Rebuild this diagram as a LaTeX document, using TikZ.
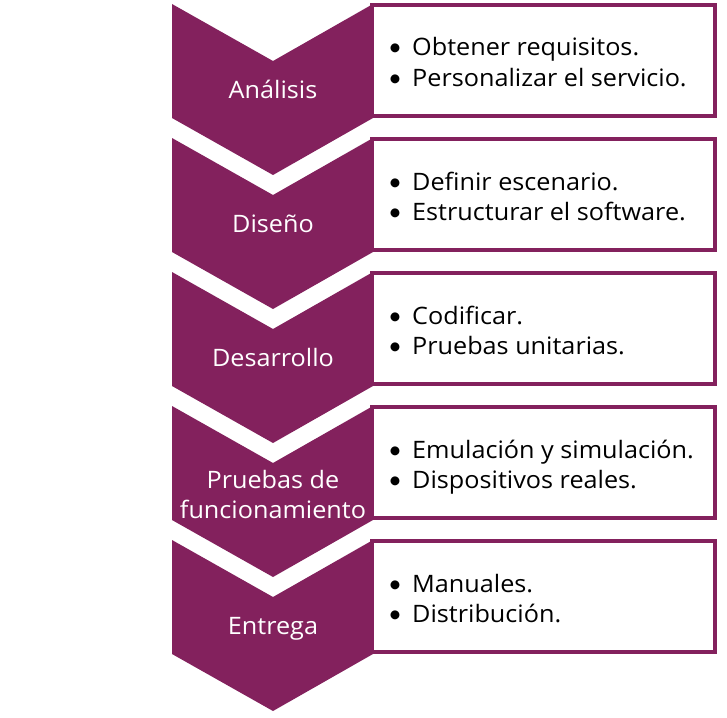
\documentclass[tikz,border=0pt]{standalone}
\usepackage{fontspec}
\setmainfont[FakeStretch=1.05]{Open Sans}
\newfontfamily\bulfont{Lato}
\definecolor{plum}{RGB}{131,33,93}
\tikzset{
  chev/.style={fill=plum, draw=none},
  itembox/.style={draw=plum, line width=4pt, fill=white},
  chevlabel/.style={text=white, font=\fontsize{24}{28}\selectfont, anchor=base, inner sep=0pt},
  itemline/.style={text=black, font=\fontsize{24}{28}\selectfont, anchor=base west, inner sep=0pt},
}
\newcommand{\bul}{\makebox[24pt][l]{\bulfont\textbullet}}
\begin{document}
\begin{tikzpicture}[x=1pt,y=-1pt]
\useasboundingbox (0,0) rectangle (727,717);
\foreach \i/\y in {1/4,2/138,3/272,4/406,5/540}{
  \fill[chev] (172,\y) -- (273,\y+57) -- (373,\y) -- (373,\y+114) -- (273,\y+171) -- (172,\y+114) -- cycle;
  \draw[itembox] (372,\y+1.3) rectangle (714.7,\y+112.3);
}
\node[chevlabel] (c1) at (273,98) {Análisis};
\node[chevlabel] (c2) at (273,232) {Diseño};
\node[chevlabel] (c3) at (273,366) {Desarrollo};
\node[chevlabel] (c4a) at (273,488) {Pruebas de};
\node[chevlabel] (c4b) at (273,518) {funcionamiento};
\node[chevlabel] (c5) at (273,634) {Entrega};
\node[itemline] (b1a) at (388,56) {\bul Obtener requisitos.};
\node[itemline] (b1b) at (388,86) {\bul Personalizar el servicio.};
\node[itemline] (b2a) at (388,190) {\bul Definir escenario.};
\node[itemline] (b2b) at (388,220) {\bul Estructurar el software.};
\node[itemline] (b3a) at (388,324) {\bul Codificar.};
\node[itemline] (b3b) at (388,354) {\bul Pruebas unitarias.};
\node[itemline] (b4a) at (388,458) {\bul Emulación y simulación.};
\node[itemline] (b4b) at (388,488) {\bul Dispositivos reales.};
\node[itemline] (b5a) at (388,592) {\bul Manuales.};
\node[itemline] (b5b) at (388,622) {\bul Distribución.};
\end{tikzpicture}
\end{document}
